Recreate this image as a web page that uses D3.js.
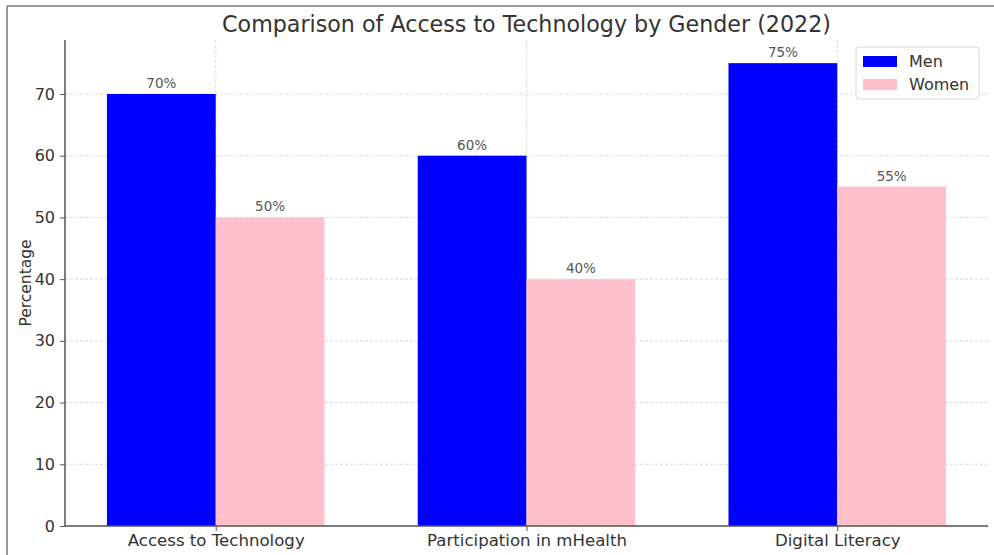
<!DOCTYPE html>
<html>
<head>
<meta charset="utf-8">
<script src="https://cdn.jsdelivr.net/npm/d3@7/dist/d3.min.js"></script>
<style>
  html, body { margin: 0; padding: 0; background: #fff; }
  svg { display: block; font-family: "DejaVu Sans", sans-serif; }
</style>
</head>
<body>
<svg id="chart" width="994" height="555"></svg>
<script>
// Chart data
const categories = ["Access to Technology", "Participation in mHealth", "Digital Literacy"];
const menValues = [70, 60, 75];
const womenValues = [50, 40, 55];
const seriesNames = ["Men", "Women"];
const seriesColors = ["#0000ff", "#ffc0cb"];
const yTicks = [0, 10, 20, 30, 40, 50, 60, 70];
const titleText = "Comparison of Access to Technology by Gender (2022)";
const yLabelText = "Percentage";

const svg = d3.select("#chart");
const W = 994, H = 555;
const plot = { left: 65, right: 988, top: 40, bottom: 526 };
const barWidth = 0.35;

// Frame lines along the top and left edges
svg.append("line").attr("x1", 7).attr("x2", W).attr("y1", 6).attr("y2", 6)
  .attr("stroke", "#777").attr("stroke-width", 1.5);
svg.append("line").attr("x1", 7).attr("x2", 7).attr("y1", 6).attr("y2", H)
  .attr("stroke", "#777").attr("stroke-width", 1.5);

// Linear scales (matplotlib-style margins)
const yMax = d3.max(menValues.concat(womenValues)) * 1.05;
const y = d3.scaleLinear().domain([0, yMax]).range([plot.bottom, plot.top]);
const span = categories.length - 1 + 2 * barWidth;
const x = d3.scaleLinear()
  .domain([-barWidth - 0.05 * span, categories.length - 1 + barWidth + 0.05 * span])
  .range([plot.left, plot.right]);
const pxPerUnit = x(1) - x(0);

// Grid
const grid = svg.append("g");
grid.selectAll("line.h").data(yTicks).join("line")
  .attr("x1", plot.left).attr("x2", plot.right)
  .attr("y1", d => y(d)).attr("y2", d => y(d))
  .attr("stroke", "#d0d0d0").attr("stroke-width", 0.8).attr("stroke-dasharray", "3,2");
grid.selectAll("line.v").data(categories).join("line")
  .attr("x1", (d, i) => x(i)).attr("x2", (d, i) => x(i))
  .attr("y1", plot.top).attr("y2", plot.bottom)
  .attr("stroke", "#d0d0d0").attr("stroke-width", 0.8).attr("stroke-dasharray", "3,2");

// Bars with value labels
const series = [menValues, womenValues];
series.forEach((vals, s) => {
  const offset = s === 0 ? -barWidth / 2 : barWidth / 2;
  svg.append("g").selectAll("rect").data(vals).join("rect")
    .attr("x", (d, i) => x(i + offset - barWidth / 2))
    .attr("width", barWidth * pxPerUnit)
    .attr("y", d => y(d))
    .attr("height", d => y(0) - y(d))
    .attr("fill", seriesColors[s]);
  svg.append("g").selectAll("text").data(vals).join("text")
    .attr("x", (d, i) => x(i + offset))
    .attr("y", d => y(d) - 6)
    .attr("text-anchor", "middle")
    .attr("font-size", 13.5)
    .attr("fill", "#555")
    .text(d => d + "%");
});

// Axes
const yAxis = d3.axisLeft(y).tickValues(yTicks).tickSize(5).tickPadding(5);
const gy = svg.append("g").attr("transform", `translate(${plot.left},0)`).call(yAxis);
gy.select(".domain").attr("stroke", "#555").attr("stroke-width", 1.5).attr("d", `M0,${plot.top}V${plot.bottom}`);
gy.selectAll(".tick line").attr("stroke", "#555").attr("stroke-width", 1);
gy.selectAll(".tick text").attr("font-size", 16).attr("fill", "#333").attr("font-family", "DejaVu Sans");

const xAxis = d3.axisBottom(x).tickValues(d3.range(categories.length))
  .tickFormat(i => categories[i]).tickSize(5).tickPadding(3);
const gx = svg.append("g").attr("transform", `translate(0,${plot.bottom})`).call(xAxis);
gx.select(".domain").attr("stroke", "#555").attr("stroke-width", 1.5).attr("d", `M${plot.left},0H${plot.right}`);
gx.selectAll(".tick line").attr("stroke", "#555").attr("stroke-width", 1);
gx.selectAll(".tick text").attr("font-size", 16.6).attr("fill", "#333").attr("font-family", "DejaVu Sans");

// Title and y label
svg.append("text").attr("x", (plot.left + plot.right) / 2).attr("y", 32)
  .attr("text-anchor", "middle").attr("font-size", 22.2).attr("fill", "#333")
  .text(titleText);
svg.append("text")
  .attr("transform", `translate(31,${(plot.top + plot.bottom) / 2}) rotate(-90)`)
  .attr("text-anchor", "middle").attr("font-size", 15.5).attr("fill", "#333")
  .text(yLabelText);

// Legend
const lg = svg.append("g").attr("transform", "translate(856,47)");
lg.append("rect").attr("width", 123).attr("height", 52).attr("rx", 3)
  .attr("fill", "#fff").attr("fill-opacity", 0.85).attr("stroke", "#d8d8d8");
seriesNames.forEach((name, i) => {
  lg.append("rect").attr("x", 7).attr("y", 9 + i * 23).attr("width", 34).attr("height", 11)
    .attr("fill", seriesColors[i]);
  lg.append("text").attr("x", 53).attr("y", 20 + i * 23)
    .attr("font-size", 16).attr("fill", "#333").text(name);
});
</script>
</body>
</html>
